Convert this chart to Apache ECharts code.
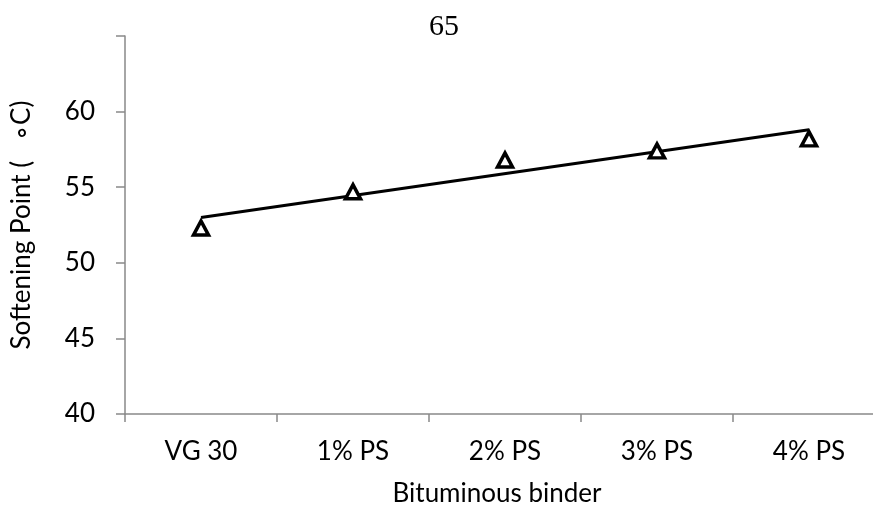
<!DOCTYPE html>
<html>
<head>
<meta charset="utf-8">
<script src="https://cdn.jsdelivr.net/npm/echarts@6/dist/echarts.min.js"></script>
<style>
html,body{margin:0;padding:0;background:#fff;overflow:hidden;}
#chart{width:900px;height:512px;}
</style>
</head>
<body>
<div id="chart"></div>
<script>
const categories = ['VG 30', '1% PS', '2% PS', '3% PS', '4% PS'];
const softeningPoint = [52.3, 54.7, 56.8, 57.4, 58.2];
const trendStart = 53.0;
const trendEnd = 58.8;
const yMin = 40, yMax = 65, yStep = 5;
const topLabel = '65';
const xTitle = 'Bituminous binder';
const yTitle = 'Softening Point (   \u2218C)';

const trendData = categories.map((c, i) => i === 0 ? trendStart : (i === categories.length - 1 ? trendEnd : null));

const FONT = 'Lato';
const chart = echarts.init(document.getElementById('chart'));
chart.setOption({
  animation: false,
  backgroundColor: '#fff',
  title: {
    text: topLabel,
    left: 424, top: 7,
    textStyle: { fontFamily: 'Liberation Serif', fontSize: 30, fontWeight: 'normal', color: '#000' }
  },
  grid: { left: 125, top: 36, width: 760, height: 384, containLabel: false },
  xAxis: {
    type: 'category',
    data: categories,
    boundaryGap: true,
    axisLine: { lineStyle: { color: '#898989', width: 1.5 } },
    axisTick: { show: true, length: 8, lineStyle: { color: '#898989', width: 1.5 } },
    axisLabel: { color: '#000', fontFamily: FONT, fontSize: 26, margin: 25 },
    name: xTitle,
    nameLocation: 'middle',
    nameGap: 67,
    nameTextStyle: { color: '#000', fontFamily: FONT, fontSize: 26, padding: [0, 16, 0, 0] },
    splitLine: { show: false }
  },
  yAxis: {
    type: 'value',
    min: yMin, max: yMax, interval: yStep,
    axisLine: { show: true, lineStyle: { color: '#898989', width: 1.5 } },
    axisTick: { show: true, length: 9, lineStyle: { color: '#898989', width: 1.5 } },
    axisLabel: {
      color: '#000', fontFamily: FONT, fontSize: 26, margin: 30,
      formatter: v => (v === yMax ? '' : String(v))
    },
    splitLine: { show: false },
    name: yTitle,
    nameLocation: 'middle',
    nameGap: 90,
    nameRotate: 90,
    nameTextStyle: { color: '#000', fontFamily: FONT, fontSize: 26 }
  },
  series: [
    {
      type: 'line',
      data: trendData,
      connectNulls: true,
      symbol: 'none',
      lineStyle: { color: '#000', width: 3 },
      z: 2
    },
    {
      type: 'line',
      data: softeningPoint,
      symbol: 'triangle',
      symbolSize: [15, 14],
      lineStyle: { opacity: 0 },
      itemStyle: { color: '#fff', borderColor: '#000', borderWidth: 3.5 },
      z: 3
    }
  ]
});
</script>
</body>
</html>
